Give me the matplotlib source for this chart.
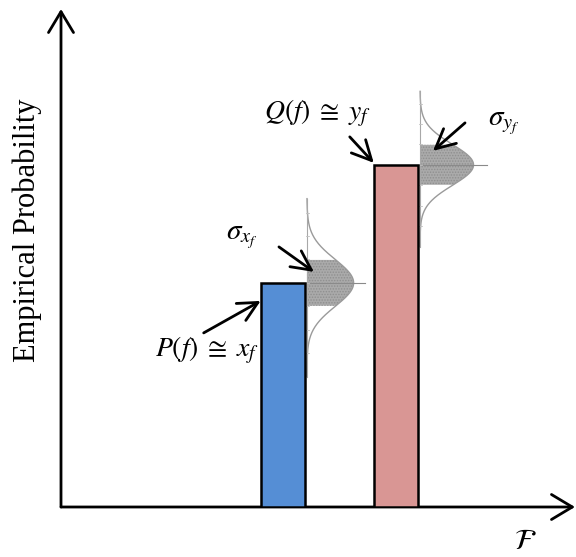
import numpy as np
import matplotlib
matplotlib.use("Agg")
import matplotlib.pyplot as plt

plt.rcParams['mathtext.fontset'] = 'stix'
plt.rcParams['hatch.linewidth'] = 0.7

# ---- data ----
labels = ["P", "Q"]
positions = [4.32, 6.52]          # location along F axis
values = [0.45, 0.687]            # empirical probability
sigmas = [0.047, 0.041]           # std deviation of estimate
bar_colors = ["#558ed5", "#d99694"]
bar_width = 0.87
pdf_scale = 0.107
ylabel = "Empirical Probability"
xlabel = r"$\mathcal{F}$"
value_texts = [r"$P(f)\;\cong\;x_f$", r"$Q(f)\;\cong\;y_f$"]
sigma_texts = [r"$\sigma_{x_f}$", r"$\sigma_{y_f}$"]

fig = plt.figure(figsize=(5.76, 5.57), dpi=100)
ax = fig.add_axes([61 / 576, 50 / 557, 514 / 576, 498 / 557])
ax.set_xlim(0, 10)
ax.set_ylim(0, 1)
ax.axis("off")

# axes arrows
arrow_kw = dict(arrowstyle="->,head_length=0.75,head_width=0.45", lw=2, color="black",
                shrinkA=0, shrinkB=0, mutation_scale=20)
ax.annotate("", xy=(0, 1), xytext=(0, 0), xycoords="axes fraction", arrowprops=arrow_kw)
ax.annotate("", xy=(1, 0), xytext=(0, 0), xycoords="axes fraction", arrowprops=arrow_kw)

ax.text(-0.066, 0.556, ylabel, transform=ax.transAxes, rotation=90, ha="center", va="center",
        fontsize=22, family="Liberation Serif")
ax.text(0.903, -0.068, xlabel, transform=ax.transAxes, ha="center", va="center", fontsize=21)

bars = ax.bar(positions, values, width=bar_width, color=bar_colors, edgecolor="black",
              linewidth=1.8, zorder=3)

pointer = dict(arrowstyle="->,head_length=0.7,head_width=0.35", lw=2, color="black",
               shrinkA=0, shrinkB=0, mutation_scale=20)

for i, (xc, v, s) in enumerate(zip(positions, values, sigmas)):
    x0 = xc + bar_width / 2 + 0.03
    ys = np.linspace(v - 4.0 * s, v + 3.6 * s, 300)
    pdf = np.exp(-0.5 * ((ys - v) / s) ** 2) / (np.sqrt(2 * np.pi) * s)
    xs = x0 + pdf_scale * pdf
    amp = pdf_scale / (np.sqrt(2 * np.pi) * s)
    band = np.abs(ys - v) <= s
    ax.fill_betweenx(ys[band], x0, xs[band], facecolor="#aaaaaa", edgecolor="#8f8f8f",
                     hatch="......", linewidth=0, zorder=1)
    ax.plot(xs, ys, color="#9a9a9a", lw=1.0, zorder=2)
    ax.plot([x0, x0], [ys[0], ys[-1]], color="#a8a8a8", lw=0.8, zorder=2)
    ax.plot([x0, x0 + 1.25 * amp], [v, v], color="#8a8a8a", lw=0.8, zorder=2)
    for k in range(-3, 4):
        ax.plot([x0 - 0.02, x0 + 0.04], [v + k * s, v + k * s], color="#c0c0c0", lw=0.6, zorder=2)

    left = xc - bar_width / 2
    if i == 0:
        tip = (left, v - 18 / 498)
        ax.annotate("", xy=tip, xytext=(-57, -32), textcoords="offset pixels", arrowprops=pointer)
        ax.annotate(value_texts[i], xy=(left, v), xytext=(-54, -67), textcoords="offset pixels",
                    ha="center", va="center", fontsize=20)
        stip = (x0 + 7 / 51.4, v + 11 / 498)
        ax.annotate("", xy=stip, xytext=(-35, 25), textcoords="offset pixels", arrowprops=pointer, zorder=5)
        ax.annotate(sigma_texts[i], xy=(x0, v), xytext=(-65, 46), textcoords="offset pixels",
                    ha="center", va="center", fontsize=21)
    else:
        tip = (left, v + 2 / 498)
        ax.annotate("", xy=tip, xytext=(-24, 26), textcoords="offset pixels", arrowprops=pointer)
        ax.annotate(value_texts[i], xy=(left, v), xytext=(-56, 52), textcoords="offset pixels",
                    ha="center", va="center", fontsize=20)
        stip = (x0 + 13 / 51.4, v + 14 / 498)
        ax.annotate("", xy=stip, xytext=(32, 28), textcoords="offset pixels", arrowprops=pointer, zorder=5)
        ax.annotate(sigma_texts[i], xy=(x0, v), xytext=(84, 42), textcoords="offset pixels",
                    ha="center", va="center", fontsize=21)

fig.savefig("out.png", dpi=100)
